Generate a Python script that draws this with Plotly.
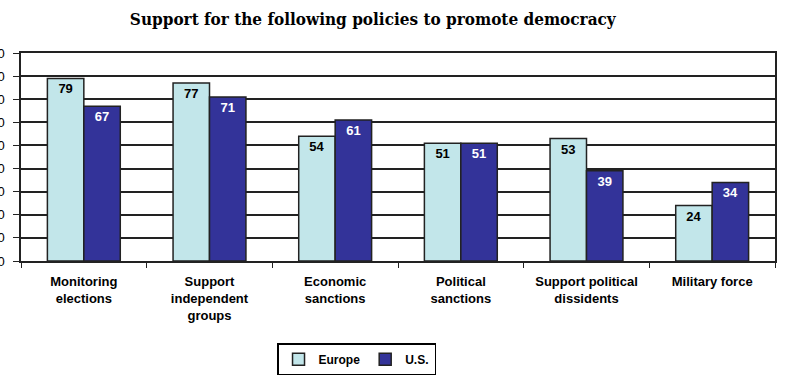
import plotly.graph_objects as go

categories = ["Monitoring<br>elections", "Support<br>independent<br>groups", "Economic<br>sanctions",
              "Political<br>sanctions", "Support political<br>dissidents", "Military force"]
europe = [79, 77, 54, 51, 53, 24]
us = [67, 71, 61, 51, 39, 34]
tick_vals = [0, 10, 20, 30, 40, 50, 60, 70, 80, 90]

fig = go.Figure()
fig.add_trace(go.Bar(x=categories, y=europe, name="<b>Europe</b>",
                     marker=dict(color="#C2E6EA", line=dict(color="#222222", width=1.5)),
                     texttemplate="<b>%{y}</b>", textposition="inside", insidetextanchor="end",
                     textfont=dict(family="Arial, Liberation Sans", size=13, color="black"),
                     textangle=0))
fig.add_trace(go.Bar(x=categories, y=us, name="<b>U.S.</b>",
                     marker=dict(color="#333399", line=dict(color="#222222", width=1.5)),
                     texttemplate="<b>%{y}</b>", textposition="inside", insidetextanchor="end",
                     textfont=dict(family="Arial, Liberation Sans", size=13, color="white"),
                     textangle=0))

fig.update_layout(
    width=800, height=376,
    margin=dict(l=21, r=25, t=53, b=115, autoexpand=False),
    paper_bgcolor="white", plot_bgcolor="white",
    barmode="group", bargap=0.42, bargroupgap=0,
    title=dict(text="<b>Support for the following policies to promote democracy</b>",
               x=0.466, xanchor="center", y=0.95, yanchor="middle",
               font=dict(family="DejaVu Serif Condensed, DejaVu Serif", size=17, color="black")),
    font=dict(family="Arial, Liberation Sans", size=13, color="black"),
    legend=dict(orientation="h", x=0.445, xanchor="center", y=-0.395, yanchor="top",
                bordercolor="black", borderwidth=1.5, bgcolor="white",
                font=dict(family="Arial, Liberation Sans", size=12, color="black"),
                itemwidth=30, tracegroupgap=0),
    showlegend=True,
)
fig.update_xaxes(showline=True, linecolor="#222222", linewidth=1.5, mirror=True, automargin=False,
                 ticks="outside", tickson="boundaries", ticklen=5, tickcolor="#222222",
                 ticklabelstandoff=8,
                 tickfont=dict(family="Arial, Liberation Sans", size=13, color="black"),
                 showgrid=False, tickprefix="<b>", ticksuffix="</b>")
fig.update_yaxes(range=[0, 90], tickvals=tick_vals, showgrid=True, gridcolor="#222222", gridwidth=1.5,
                 showline=True, linecolor="#222222", linewidth=1.5, mirror=True, automargin=False,
                 ticks="outside", ticklen=6, tickcolor="#222222", ticklabelstandoff=6,
                 tickfont=dict(family="Arial, Liberation Sans", size=13, color="black"),
                 tickprefix="<b>", ticksuffix="</b>", zeroline=False)

fig.write_html("out.html", config={"displayModeBar": False},
               post_script="document.body.style.margin='0';")
